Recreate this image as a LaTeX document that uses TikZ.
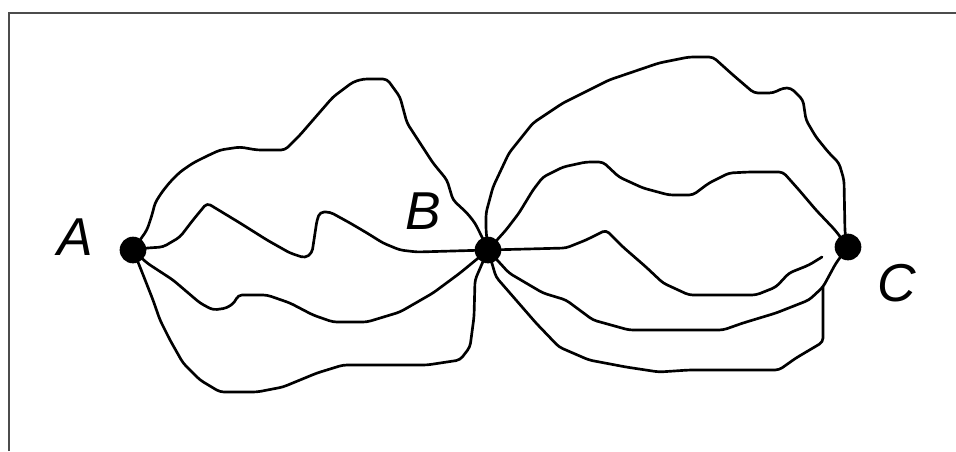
\documentclass[tikz,border=0pt]{standalone}
\usepackage{fontspec}
\setmainfont{Liberation Sans}
\begin{document}
\begin{tikzpicture}[x=0.75pt,y=-0.75pt,
  route/.style={line width=2pt,rounded corners=3pt,line join=round,line cap=round},
  dot/.style={circle,fill=black,inner sep=0pt,minimum size=20pt},
  lab/.style={font=\fontsize{40}{40}\selectfont\itshape,inner sep=0pt},
  frame/.style={line width=1.3pt,draw=black!70}]
\useasboundingbox (0,0) rectangle (956,451);
\fill[white] (0,0) rectangle (956,451);
\coordinate (fTL) at (9,13);
\coordinate (fTR) at (956,13);
\coordinate (fBL) at (9,451);
\draw[frame] (fBL) -- (fTL) -- (fTR);
\coordinate (A) at (133,250);
\coordinate (B) at (488,250);
\coordinate (C) at (848,247);
\coordinate (r3end) at (822,257);
\coordinate (r5end) at (823,287);
% A to B
\draw[route] (A) -- (140,240) -- (147,230) -- (152,215) -- (155,203) -- (162,192) -- (170,182) -- (180,172) -- (193,163) -- (207,156) -- (220,150) -- (240,147) -- (257,150) -- (285,150) -- (300,135) -- (313,120) -- (333,97) -- (353,82) -- (363,79) -- (387,79) -- (400,97) -- (407,123) -- (420,143) -- (433,163) -- (447,180) -- (453,200) -- (467,213) -- (475,223) -- (481,235) -- (B);
\draw[route] (A) -- (147,248) -- (163,247) -- (180,237) -- (193,220) -- (207,203) -- (240,223) -- (267,240) -- (290,253) -- (305,258) -- (312,253) -- (317,220) -- (320,212) -- (330,212) -- (350,223) -- (367,233) -- (383,243) -- (400,250) -- (417,252) -- (B);
\draw[route] (A) -- (147,263) -- (173,280) -- (200,303) -- (213,310) -- (227,308) -- (235,302) -- (238,295) -- (267,295) -- (290,303) -- (313,315) -- (333,322) -- (367,322) -- (400,312) -- (433,293) -- (460,273) -- (B);
\draw[route] (A) -- (140,267) -- (153,300) -- (160,320) -- (170,340) -- (183,363) -- (200,380) -- (220,392) -- (257,392) -- (283,387) -- (317,373) -- (343,365) -- (427,365) -- (460,360) -- (470,347) -- (474,317) -- (475,280) -- (B);
% B to C
\draw[route] (B) -- (486,230) -- (486,213) -- (493,187) -- (509,153) -- (533,123) -- (563,103) -- (609,80) -- (659,63) -- (689,57) -- (713,57) -- (733,75) -- (754,93) -- (773,93) -- (783,88) -- (791,88) -- (803,100) -- (806,120) -- (816,137) -- (829,153) -- (839,163) -- (844,180) -- (845,233) -- (C);
\draw[route] (B) -- (506,230) -- (519,213) -- (533,190) -- (543,177) -- (563,167) -- (586,162) -- (603,162) -- (619,177) -- (643,188) -- (669,195) -- (693,195) -- (709,183) -- (729,173) -- (749,172) -- (783,172) -- (799,190) -- (816,210) -- (835,230) -- (C);
\draw[route] (B) -- (566,248) -- (586,240) -- (606,230) -- (623,247) -- (646,267) -- (663,283) -- (689,295) -- (756,295) -- (776,287) -- (789,273) -- (809,265) -- (r3end);
\draw[route] (B) -- (509,273) -- (543,293) -- (566,300) -- (593,320) -- (629,330) -- (723,330) -- (743,323) -- (776,313) -- (809,300) -- (823,287) -- (836,263) -- (C);
\draw[route] (B) -- (496,277) -- (516,300) -- (536,323) -- (559,347) -- (589,360) -- (626,367) -- (659,372) -- (689,370) -- (779,370) -- (796,358) -- (823,342) -- (r5end);
% dots and labels
\node[dot] (dotA) at (A) {};
\node[dot] (dotB) at (B) {};
\node[dot] (dotC) at (C) {};
\node[lab] (labA) at (75,237) {A};
\node[lab] (labB) at (423,211) {B};
\node[lab] (labC) at (897,283) {C};
\end{tikzpicture}
\end{document}
